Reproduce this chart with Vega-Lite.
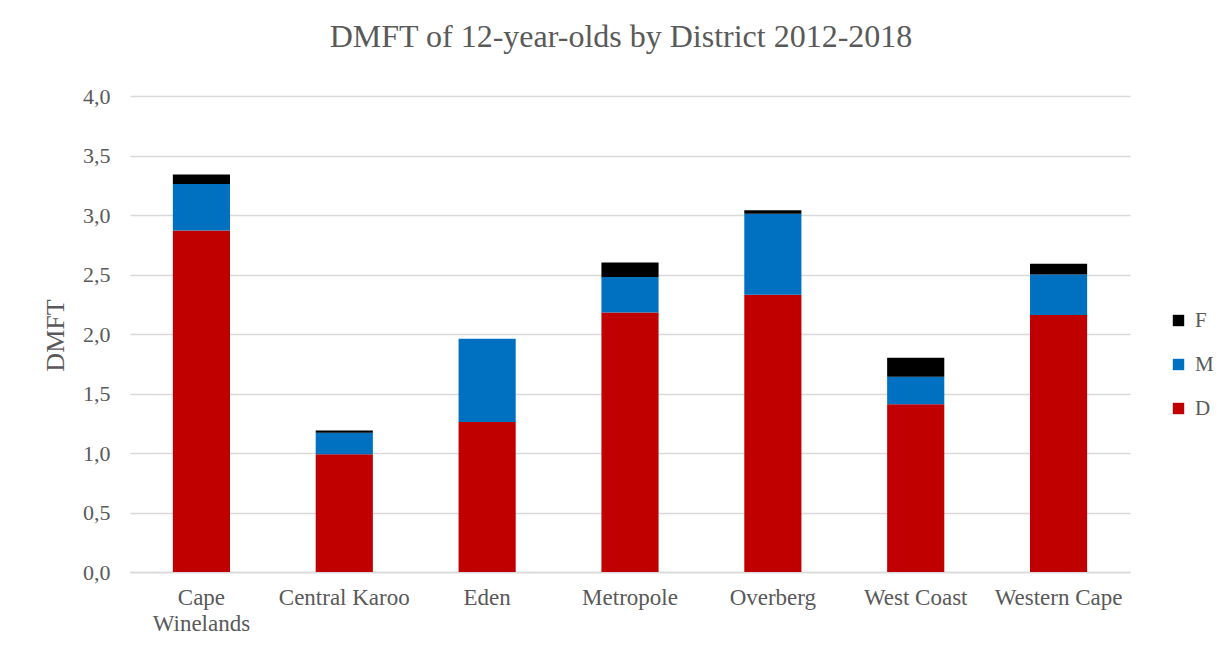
{
  "$schema": "https://vega.github.io/schema/vega-lite/v6.json",
  "width": 1000,
  "height": 476,
  "autosize": {"type": "none"},
  "padding": {"left": 130, "top": 96, "right": 102, "bottom": 83},
  "background": "white",
  "title": {
    "text": "DMFT of 12-year-olds by District 2012-2018",
    "font": "Liberation Serif",
    "fontSize": 32,
    "fontWeight": "normal",
    "color": "#595959",
    "anchor": "middle",
    "offset": 31,
    "dx": -9
  },
  "data": {
    "values": [
      {"district": "Cape Winelands", "component": "D", "value": 2.87},
      {"district": "Cape Winelands", "component": "M", "value": 0.39},
      {"district": "Cape Winelands", "component": "F", "value": 0.08},
      {"district": "Central Karoo", "component": "D", "value": 0.99},
      {"district": "Central Karoo", "component": "M", "value": 0.18},
      {"district": "Central Karoo", "component": "F", "value": 0.02},
      {"district": "Eden", "component": "D", "value": 1.26},
      {"district": "Eden", "component": "M", "value": 0.70},
      {"district": "Eden", "component": "F", "value": 0.0},
      {"district": "Metropole", "component": "D", "value": 2.18},
      {"district": "Metropole", "component": "M", "value": 0.30},
      {"district": "Metropole", "component": "F", "value": 0.12},
      {"district": "Overberg", "component": "D", "value": 2.33},
      {"district": "Overberg", "component": "M", "value": 0.68},
      {"district": "Overberg", "component": "F", "value": 0.03},
      {"district": "West Coast", "component": "D", "value": 1.41},
      {"district": "West Coast", "component": "M", "value": 0.23},
      {"district": "West Coast", "component": "F", "value": 0.16},
      {"district": "Western Cape", "component": "D", "value": 2.16},
      {"district": "Western Cape", "component": "M", "value": 0.34},
      {"district": "Western Cape", "component": "F", "value": 0.09}
    ]
  },
  "transform": [
    {"calculate": "indexof(['D', 'M', 'F'], datum.component)", "as": "stack_order"}
  ],
  "mark": {"type": "bar"},
  "encoding": {
    "x": {
      "field": "district",
      "type": "nominal",
      "sort": null,
      "scale": {"paddingInner": 0.6, "paddingOuter": 0.3},
      "axis": {
        "title": null,
        "labelAngle": 0,
        "labelFont": "Liberation Serif",
        "labelFontSize": 23,
        "labelColor": "#595959",
        "labelPadding": 14,
        "labelLineHeight": 26,
        "labelExpr": "datum.value == 'Cape Winelands' ? ['Cape', 'Winelands'] : datum.value",
        "ticks": false,
        "domainColor": "#d9d9d9",
        "domainWidth": 1.5,
        "grid": false
      }
    },
    "y": {
      "field": "value",
      "type": "quantitative",
      "stack": "zero",
      "scale": {"domain": [0, 4], "nice": false},
      "axis": {
        "title": "DMFT",
        "titleFont": "Liberation Serif",
        "titleFontSize": 26,
        "titleFontWeight": "normal",
        "titleColor": "#595959",
        "titleX": -75,
        "titleY": 239,
        "titleBaseline": "middle",
        "values": [0, 0.5, 1, 1.5, 2, 2.5, 3, 3.5, 4],
        "labelExpr": "replace(format(datum.value, '.1f'), '.', ',')",
        "labelFont": "Liberation Serif",
        "labelFontSize": 22,
        "labelColor": "#595959",
        "labelPadding": 20,
        "ticks": false,
        "domain": false,
        "gridColor": "#d9d9d9",
        "gridWidth": 1.5
      }
    },
    "order": {"field": "stack_order", "type": "quantitative", "sort": "ascending"},
    "color": {
      "field": "component",
      "type": "nominal",
      "sort": ["F", "M", "D"],
      "scale": {"domain": ["F", "M", "D"], "range": ["#000000", "#0070C0", "#C00000"]},
      "legend": {
        "title": null,
        "orient": "none",
        "legendX": 1038,
        "legendY": 214,
        "symbolType": "square",
        "symbolSize": 130,
        "symbolStrokeWidth": 0,
        "labelFont": "Liberation Serif",
        "labelFontSize": 21,
        "labelColor": "#595959",
        "labelOffset": 6,
        "rowPadding": 22
      }
    }
  },
  "config": {"view": {"stroke": null}}
}
